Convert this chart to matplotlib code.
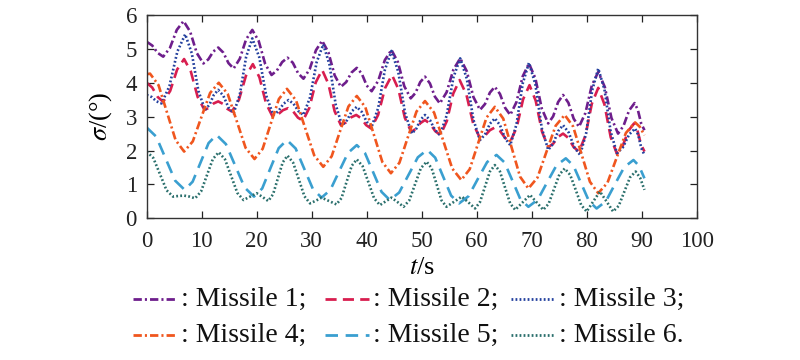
import matplotlib
matplotlib.use("Agg")
import matplotlib.pyplot as plt
from matplotlib.lines import Line2D

plt.rcParams['font.family'] = ['Liberation Serif', 'DejaVu Serif']
plt.rcParams['mathtext.fontset'] = 'stix'
plt.rcParams['lines.scale_dashes'] = False

# ---------------- data ----------------
t1 = [0, 1.0, 2.0, 3.0, 4.23, 5.47, 6.7, 7.9, 9.1, 10.3, 11.2, 12.1, 13.0, 13.93, 14.87, 15.8,
      16.93, 18.07, 19.2, 20.37, 21.53, 22.7, 23.67, 24.63, 25.6, 26.57, 27.53, 28.5, 29.63, 30.77,
      31.9, 33.03, 34.17, 35.3, 36.27, 37.23, 38.2, 39.1, 40.0, 40.9, 42.1, 43.3, 44.5, 45.67, 46.83,
      48.0, 48.87, 49.73, 50.6, 51.5, 52.4, 53.3, 54.53, 55.77, 57.0, 58.2, 59.4, 60.6, 61.5, 62.4,
      63.3, 64.23, 65.17, 66.1, 67.23, 68.37, 69.5, 70.67, 71.83, 73.0, 73.9, 74.8, 75.7, 76.67,
      77.63, 78.6, 79.77, 80.93, 82.1, 83.3, 84.5, 85.7, 86.7, 87.7, 88.7, 89.3, 89.9, 90.5]
m1 = [5.21, 5.10, 4.88, 4.77, 5.03, 5.56, 5.82, 5.51, 4.88, 4.57, 4.69, 4.92, 5.04, 4.89, 4.58, 4.42,
      4.71, 5.28, 5.56, 5.23, 4.56, 4.23, 4.36, 4.61, 4.74, 4.59, 4.28, 4.12, 4.40, 4.96,
      5.24, 4.90, 4.22, 3.88, 4.02, 4.30, 4.44, 4.27, 3.92, 3.75, 4.06, 4.67, 4.97, 4.61, 3.90,
      3.54, 3.70, 4.02, 4.18, 3.98, 3.59, 3.39, 3.72, 4.39, 4.72, 4.34, 3.58, 3.20, 3.37, 3.71,
      3.88, 3.67, 3.26, 3.05, 3.43, 4.19, 4.57, 4.13, 3.24, 2.80, 3.01, 3.43, 3.64, 3.41,
      2.94, 2.70, 3.11, 3.92, 4.32, 3.87, 2.96, 2.50, 2.73, 3.18, 3.40, 3.20, 2.80, 2.60]

t2 = [0, 1.0, 2.0, 3.0, 4.27, 5.53, 6.8, 8.03, 9.27, 10.5, 11.33, 12.17, 13.0, 13.83, 14.67, 15.5,
      16.77, 18.03, 19.3, 20.5, 21.7, 22.9, 23.83, 24.77, 25.7, 26.6, 27.5, 28.4, 29.57, 30.73,
      31.9, 33.03, 34.17, 35.3, 36.23, 37.17, 38.1, 39.0, 39.9, 40.8, 42.07, 43.33, 44.6, 45.77, 46.93,
      48.1, 48.93, 49.77, 50.6, 51.53, 52.47, 53.4, 54.57, 55.73, 56.9, 58.13, 59.37, 60.6, 61.5, 62.4,
      63.3, 64.23, 65.17, 66.1, 67.27, 68.43, 69.6, 70.73, 71.87, 73.0, 73.9, 74.8, 75.7, 76.67,
      77.63, 78.6, 79.77, 80.93, 82.1, 83.23, 84.37, 85.5, 86.53, 87.57, 88.6, 89.23, 89.87, 90.5]
m2 = [4.00, 3.86, 3.58, 3.44, 3.76, 4.39, 4.70, 4.33, 3.58, 3.20, 3.26, 3.39, 3.45, 3.38, 3.23, 3.15,
      3.50, 4.20, 4.55, 4.16, 3.39, 3.00, 3.06, 3.19, 3.25, 3.16, 2.97, 2.88, 3.26, 4.01,
      4.38, 3.97, 3.16, 2.75, 2.83, 2.98, 3.05, 2.95, 2.75, 2.65, 3.05, 3.84, 4.23, 3.81, 2.97,
      2.55, 2.64, 2.81, 2.90, 2.79, 2.57, 2.46, 2.87, 3.68, 4.08, 3.65, 2.79, 2.36, 2.44, 2.60,
      2.68, 2.58, 2.37, 2.26, 2.68, 3.51, 3.93, 3.47, 2.56, 2.10, 2.20, 2.40, 2.50, 2.37,
      2.10, 1.97, 2.44, 3.38, 3.85, 3.36, 2.39, 1.90, 2.13, 2.58, 2.80, 2.59, 2.18, 1.97]

t3 = [0, 0.9, 1.8, 2.7, 4.13, 5.57, 7.0, 8.2, 9.4, 10.6, 11.4, 12.2, 13.0, 13.93, 14.87, 15.8,
      16.93, 18.07, 19.2, 20.47, 21.73, 23.0, 23.93, 24.87, 25.8, 26.7, 27.6, 28.5, 29.7, 30.9,
      32.1, 33.23, 34.37, 35.5, 36.4, 37.3, 38.2, 39.1, 40.0, 40.9, 42.1, 43.3, 44.5, 45.73, 46.97,
      48.2, 49.0, 49.8, 50.6, 51.5, 52.4, 53.3, 54.53, 55.77, 57.0, 58.2, 59.4, 60.6, 61.5, 62.4,
      63.3, 64.23, 65.17, 66.1, 67.23, 68.37, 69.5, 70.67, 71.83, 73.0, 73.9, 74.8, 75.7, 76.73,
      77.77, 78.8, 79.9, 81.0, 82.1, 83.23, 84.37, 85.5, 86.6, 87.7, 88.8, 89.37, 89.93, 90.5]
m3 = [3.64, 3.58, 3.45, 3.39, 3.90, 4.92, 5.43, 4.87, 3.76, 3.20, 3.35, 3.64, 3.79, 3.62, 3.27, 3.10,
      3.65, 4.76, 5.31, 4.75, 3.62, 3.05, 3.16, 3.38, 3.49, 3.38, 3.16, 3.05, 3.57, 4.61,
      5.13, 4.54, 3.35, 2.75, 2.89, 3.16, 3.29, 3.14, 2.85, 2.70, 3.26, 4.38, 4.94, 4.33, 3.11,
      2.50, 2.64, 2.91, 3.05, 2.90, 2.61, 2.46, 3.03, 4.16, 4.72, 4.12, 2.91, 2.31, 2.47, 2.79,
      2.95, 2.75, 2.36, 2.16, 2.77, 3.98, 4.59, 3.95, 2.66, 2.02, 2.20, 2.57, 2.75, 2.53,
      2.09, 1.87, 2.51, 3.78, 4.42, 3.80, 2.55, 1.92, 2.10, 2.47, 2.65, 2.46, 2.07, 1.87]

t4 = [0, 0.6, 2.15, 3.7, 5.25, 6.8, 8.38, 9.95, 11.53, 13.1, 14.73, 16.35, 17.98, 19.6, 21.08, 22.55,
      24.03, 25.5, 27.15, 28.8, 30.45, 32.1, 33.63, 35.15, 36.68, 38.2, 39.75, 41.3, 42.85, 44.4,
      45.95, 47.5, 49.05, 50.6, 52.25, 53.9, 55.55, 57.2, 58.73, 60.25, 61.78, 63.3, 64.83, 66.35,
      67.88, 69.4, 71.05, 72.7, 74.35, 76.0, 77.53, 79.05, 80.58, 82.1, 83.78, 85.45, 87.13, 88.8,
      89.65, 90.5]
m4 = [4.25, 4.27, 3.93, 3.12, 2.31, 1.97, 2.27, 2.99, 3.70, 4.00, 3.67, 2.88, 2.08, 1.75, 2.05, 2.79,
      3.52, 3.82, 3.48, 2.67, 1.86, 1.52, 1.83, 2.57, 3.30, 3.61, 3.28, 2.47, 1.66, 1.33,
      1.64, 2.40, 3.15, 3.46, 3.12, 2.30, 1.47, 1.13, 1.45, 2.21, 2.97, 3.29, 2.94, 2.09,
      1.23, 0.88, 1.20, 1.97, 2.73, 3.05, 2.71, 1.90, 1.08, 0.74, 1.05, 1.79, 2.52, 2.83,
      2.70, 2.45]

t5 = [0, 1.73, 3.45, 5.18, 6.9, 8.35, 9.8, 11.25, 12.7, 14.4, 16.1, 17.8, 19.5, 21.0, 22.5, 24.0,
      25.5, 27.08, 28.65, 30.23, 31.8, 33.4, 35.0, 36.6, 38.2, 39.7, 41.2, 42.7, 44.2, 45.9, 47.6,
      49.3, 51.0, 52.45, 53.9, 55.35, 56.8, 58.5, 60.2, 61.9, 63.6, 65.05, 66.5, 67.95, 69.4, 71.1,
      72.8, 74.5, 76.2, 77.6, 79.0, 80.4, 81.8, 83.48, 85.15, 86.83, 88.5, 89.5, 90.5]
m5 = [2.68, 2.41, 1.76, 1.11, 0.84, 1.08, 1.65, 2.22, 2.46, 2.19, 1.55, 0.91, 0.64, 0.88, 1.48, 2.07,
      2.31, 2.06, 1.46, 0.86, 0.61, 0.84, 1.39, 1.93, 2.16, 1.92, 1.35, 0.78, 0.54, 0.76, 1.28,
      1.80, 2.02, 1.79, 1.23, 0.67, 0.44, 0.65, 1.16, 1.66, 1.87, 1.65, 1.11, 0.56, 0.34, 0.55,
      1.06, 1.56, 1.77, 1.55, 1.03, 0.51, 0.29, 0.50, 1.01, 1.51, 1.72, 1.55, 1.18]

t6 = [0, 1.2, 2.4, 3.6, 4.8, 5.8, 6.8, 7.8, 8.8, 9.88, 10.95, 12.03, 13.1, 14.23, 15.35, 16.48, 17.6,
      18.8, 20.0, 21.05, 22.1, 22.98, 23.85, 24.73, 25.6, 26.63, 27.65, 28.68, 29.7, 30.75, 31.8,
      33.15, 34.5, 35.43, 36.35, 37.28, 38.2, 39.25, 40.3, 41.35, 42.4, 43.45, 44.5, 45.6, 46.7,
      47.75, 48.8, 49.85, 50.9, 51.8, 52.7, 53.6, 54.5, 55.9, 57.3, 58.5, 59.7, 60.6, 61.5, 62.4,
      63.3, 64.23, 65.15, 66.08, 67.0, 68.35, 69.7, 70.9, 72.1, 73.08, 74.05, 75.03, 76.0, 77.0,
      78.0, 79.0, 80.0, 81.2, 82.4, 83.6, 84.8, 85.83, 86.85, 87.88, 88.9, 89.7, 90.5]
m6 = [1.97, 1.78, 1.31, 0.83, 0.64, 0.66, 0.67, 0.64, 0.59, 0.79, 1.27, 1.75, 1.95, 1.74, 1.25, 0.75, 0.54,
      0.64, 0.74, 0.63, 0.51, 0.71, 1.18, 1.65, 1.85, 1.64, 1.15, 0.65, 0.44, 0.52, 0.61,
      0.51, 0.41, 0.60, 1.08, 1.55, 1.74, 1.54, 1.07, 0.59, 0.39, 0.50, 0.61, 0.48, 0.34,
      0.53, 1.01, 1.48, 1.67, 1.48, 1.01, 0.53, 0.34, 0.49, 0.64, 0.47, 0.29, 0.48, 0.93, 1.38,
      1.57, 1.38, 0.91, 0.44, 0.25, 0.47, 0.69, 0.47, 0.25, 0.43, 0.86, 1.29, 1.47, 1.28,
      0.84, 0.39, 0.20, 0.50, 0.79, 0.50, 0.20, 0.37, 0.79, 1.21, 1.38, 1.20, 0.84]

labels = [': Missile 1;', ': Missile 2;', ': Missile 3;',
          ': Missile 4;', ': Missile 5;', ': Missile 6.']
x_ticks = [0, 10, 20, 30, 40, 50, 60, 70, 80, 90, 100]
y_ticks = [0, 1, 2, 3, 4, 5, 6]

# ---------------- styles ----------------
colors = ['#6e1e8c', '#d81e4f', '#23409e', '#f0561e', '#3a9fd0', '#2a6f6c']
dashes = [(0, (6, 2.2, 1.5, 2.2)), (0, (8, 4.5)), (0, (1.3, 1.6)),
          (0, (6, 2.2, 1.5, 2.2)), (0, (9, 5.5)), (0, (1.3, 1.6))]
lws = [1.9, 1.9, 1.9, 1.9, 1.9, 1.9]

series = [(t1, m1), (t2, m2), (t3, m3), (t4, m4), (t5, m5), (t6, m6)]

fig = plt.figure(figsize=(8, 3.6), dpi=100)
ax = fig.add_axes([146.7 / 800, 1 - 218.3 / 360, 550 / 800, 203.3 / 360])

for (tt, vv), c, d, lw in zip(series, colors, dashes, lws):
    ax.plot(tt, vv, color=c, linestyle=d, lw=lw, solid_capstyle='butt', dash_capstyle='butt')

ax.set_xlim(0, 100)
ax.set_ylim(0, 6)
ax.set_xticks(x_ticks)
ax.set_yticks(y_ticks)
ax.tick_params(direction='in', top=True, right=True, length=5, width=0.9,
               labelsize=16.5, colors='#222222')
ax.tick_params(axis='x', pad=9)
ax.tick_params(axis='y', pad=7)
for s in ax.spines.values():
    s.set_linewidth(1.0)
    s.set_color('#333333')

ax.set_xlabel(r'$t$/s', fontsize=19, labelpad=4)
ax.set_ylabel(r'$\sigma$/(°)', fontsize=19, labelpad=8)

# legend (two rows of three entries: handle + text)
handle_x = [133, 325, 511]
row_y = [299, 335]
hlen = 44
for i, (c, d, lab) in enumerate(zip(colors, dashes, labels)):
    r, k = divmod(i, 3)
    x0 = handle_x[k]
    yy = 1 - row_y[r] / 360
    fig.add_artist(Line2D([x0 / 800, (x0 + hlen) / 800], [yy, yy], color=c, linestyle=d,
                          lw=2.0, transform=fig.transFigure))
    fig.text((x0 + hlen + 4) / 800, yy, lab, fontsize=20, va='center', ha='left',
             color='#111111')

fig.savefig('out.png', dpi=100)
